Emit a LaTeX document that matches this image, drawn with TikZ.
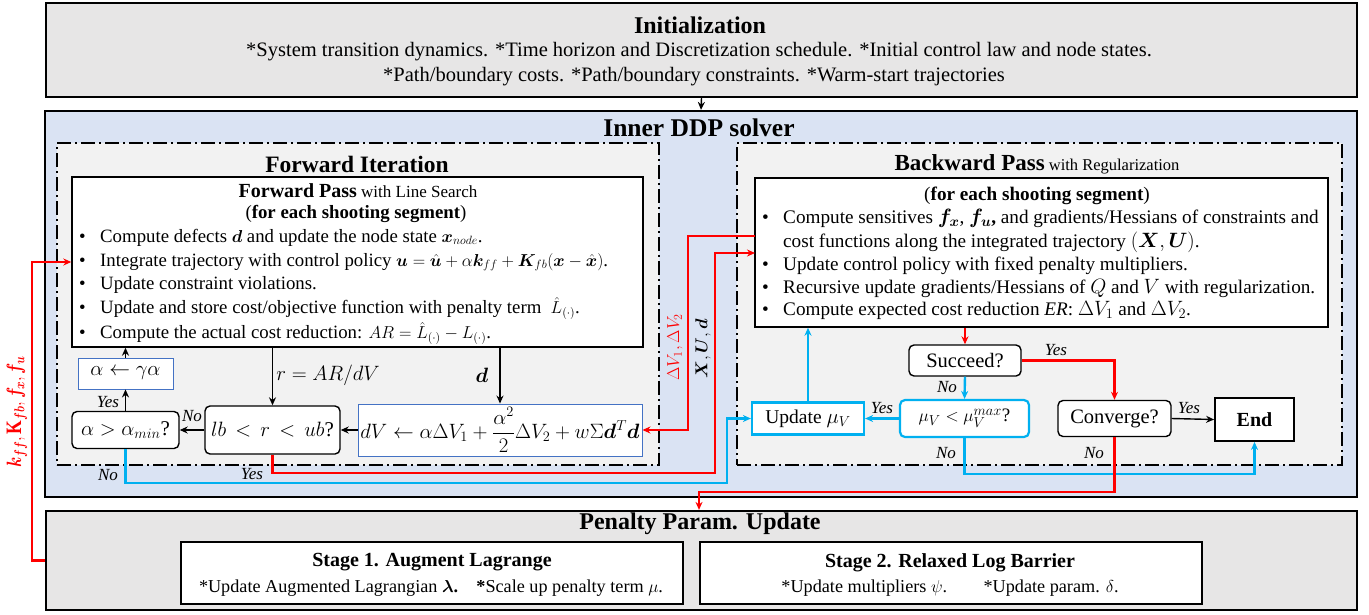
\documentclass[tikz,border=0pt]{standalone}
\usepackage{amsmath,bm}
\usepackage{fontspec}
\setmainfont{Liberation Serif}
\usetikzlibrary{arrows.meta}
\definecolor{initgray}{HTML}{E7E6E6}
\definecolor{ddpblue}{HTML}{DAE3F3}
\definecolor{dashgray}{HTML}{F2F2F2}
\definecolor{cblue}{HTML}{00B0F0}
\definecolor{cred}{HTML}{FF0000}
\definecolor{bborder}{HTML}{4472C4}
\tikzset{
  outer/.style={draw=black, line width=2.2pt, fill=initgray, inner sep=0pt},
  dd/.style={draw=black, line width=2pt, fill=dashgray, inner sep=0pt, dash pattern=on 14pt off 4pt on 2pt off 4pt},
  wbox/.style={draw=black, line width=1.4pt, fill=white, inner sep=0pt},
  rbox/.style={wbox, rounded corners=5pt},
  bbox/.style={draw=bborder, line width=0.9pt, fill=white, inner sep=0pt},
  cbox/.style={draw=cblue, line width=2.2pt, fill=white, inner sep=0pt},
  ttl/.style={font=\fontsize{24}{28}\selectfont\bfseries, inner sep=0pt},
  txt/.style={font=\fontsize{18.8}{22}\selectfont, inner sep=0pt},
  btxt/.style={txt, anchor=base west, text height=13pt, text depth=4pt},
  bwtxt/.style={btxt, font=\fontsize{19.2}{22}\selectfont},
  lab/.style={font=\fontsize{17}{18}\selectfont\itshape, inner sep=0pt},
  arr/.style={-{Stealth[length=8pt,width=7pt]}, line width=1.4pt},
  rarr/.style={arr, draw=cred, line width=2.4pt},
  barr/.style={arr, draw=cblue, line width=2.4pt},
}
\begin{document}
\begin{tikzpicture}[x=1pt,y=-1pt]
\useasboundingbox (0,0) rectangle (1369,614);

% Initialization
\node[outer, minimum width=1311, minimum height=94] (init) at (701.5,50) {};
\node[ttl] (initT) at (700,25) {Initialization};
\node[txt, font=\fontsize{20.5}{24}\selectfont] (initA) at (699,52) {*System transition dynamics. *Time horizon and Discretization schedule. *Initial control law and node states.};
\node[txt, font=\fontsize{20.5}{24}\selectfont] (initB) at (694,77) {*Path/boundary costs. *Path/boundary constraints. *Warm-start trajectories};

% Inner DDP
\node[outer, fill=ddpblue, minimum width=1312, minimum height=386] (ddp) at (701,304) {};
\node[ttl, font=\fontsize{25.5}{28}\selectfont\bfseries] (ddpT) at (699,128) {Inner DDP solver};

% Forward iteration
\node[dd, minimum width=602, minimum height=322] (fwd) at (358,304) {};
\node[ttl, font=\fontsize{23.5}{28}\selectfont\bfseries] (fwdT) at (357,164) {Forward Iteration};
\node[wbox, minimum width=571, minimum height=170] (fp) at (357.5,262) {};
\node[txt] (fpT) at (358,191) {\fontsize{20}{22}\selectfont\textbf{Forward Pass}\fontsize{17}{22}\selectfont{} with Line Search};
\node[txt] (fpS) at (356,214) {(\textbf{for each shooting segment})};
\foreach \yy/\nm in {242.4/a,266.4/b,289.4/c,313.4/d,338.4/e}{
  \node[btxt] (fpb\nm) at (79,\yy) {\textbullet};
}
\node[btxt] (fp1) at (100,242.4) {Compute defects $\bm{d}$ and update the node state $\bm{x}_{node}$.};
\node[btxt] (fp2) at (100,266.4) {Integrate trajectory with control policy $\bm{u}=\hat{\bm{u}}+\alpha\bm{k}_{ff}+\bm{K}_{fb}(\bm{x}-\hat{\bm{x}})$.};
\node[btxt] (fp3) at (100,289.4) {Update constraint violations.};
\node[btxt] (fp4) at (100,313.4) {Update and store cost/objective function with penalty term \ $\hat{L}_{(\cdot)}$.};
\node[btxt] (fp5) at (100,338.4) {Compute the actual cost reduction: $AR=\hat{L}_{(\cdot)}-L_{(\cdot)}$.};

\node[bbox, minimum width=95, minimum height=31] (agam) at (125.5,373.5) {\fontsize{21}{22}\selectfont$\alpha\leftarrow\gamma\alpha$};
\node[rbox, minimum width=107, minimum height=37] (amin) at (125.5,430) {\fontsize{21}{22}\selectfont$\alpha>\alpha_{min}$?};
\node[rbox, minimum width=135, minimum height=48] (lbr) at (272.5,430) {\fontsize{21}{22}\selectfont$lb\mkern3mu<\mkern3mu r\mkern3mu<\mkern3mu ub$?};
\node[bbox, minimum width=284, minimum height=52] (dV) at (500,430) {\fontsize{20.3}{22}\selectfont$dV\leftarrow\alpha\Delta V_1+\dfrac{\alpha^2}{2}\Delta V_2+w\Sigma\bm{d}^T\bm{d}$};
\node[txt, font=\fontsize{21}{22}\selectfont] (rlab) at (328,375) {$r=AR/dV$};
\node[txt, font=\fontsize{21}{22}\selectfont] (dlab) at (482,375) {$\bm{d}$};

% Backward pass
\node[dd, minimum width=605, minimum height=322] (bwd) at (1039.5,304) {};
\node[txt] (bwdT) at (1037,164) {\fontsize{23}{28}\selectfont\textbf{Backward Pass}\fontsize{16.5}{22}\selectfont{} with Regularization};
\node[wbox, minimum width=573, minimum height=149] (bp) at (1041.5,252.5) {};
\node[txt, font=\fontsize{19.2}{22}\selectfont] (bpS) at (1037,196) {(\textbf{for each shooting segment})};
\foreach \yy/\nm in {223.4/a,270.4/c,293.4/d,315.4/e}{
  \node[bwtxt] (bpb\nm) at (762,\yy) {\textbullet};
}
\node[bwtxt] (bp1) at (783,223.4) {Compute sensitives $\bm{f_x}$, $\bm{f_u}$\textbf{,} and gradients/Hessians of constraints and};
\node[bwtxt] (bp1b) at (783,247.4) {cost functions along the integrated trajectory $(\bm{X},\bm{U})$.};
\node[bwtxt] (bp2) at (783,270.4) {Update control policy with fixed penalty multipliers.};
\node[bwtxt] (bp3) at (783,293.4) {Recursive update gradients/Hessians of $Q$ and $V$ with regularization.};
\node[bwtxt] (bp4) at (783,315.4) {Compute expected cost reduction \textit{ER}: $\Delta V_1$ and $\Delta V_2$.};

\node[rbox, minimum width=112, minimum height=31] (succ) at (965,360.5) {\fontsize{20.5}{22}\selectfont Succeed?};
\node[cbox, rounded corners=5pt, minimum width=129, minimum height=37] (mu) at (964.5,418.5) {\fontsize{19}{22}\selectfont$\mu_V<\mu_V^{max}$?};
\node[cbox, minimum width=112, minimum height=32] (upd) at (808,418.5) {\fontsize{19.5}{22}\selectfont Update $\mu_V$};
\node[rbox, minimum width=113, minimum height=36] (conv) at (1114.5,418.5) {\fontsize{20.5}{22}\selectfont Converge?};
\node[wbox, line width=1.8pt, minimum width=79, minimum height=43] (end) at (1254.5,419.5) {\fontsize{20}{22}\selectfont\textbf{End}};

% Penalty update
\node[outer, minimum width=1311, minimum height=99] (pen) at (701.5,560.5) {};
\node[ttl] (penT) at (700,524) {Penalty Param. Update};
\node[wbox, minimum width=502, minimum height=62] (st1) at (432,573) {};
\node[wbox, minimum width=502, minimum height=62] (st2) at (951,573) {};
\node[txt] (st1T) at (432,562) {\fontsize{20}{22}\selectfont\textbf{Stage 1. Augment Lagrange}};
\node[txt] (st1A) at (431,588) {\fontsize{18.2}{22}\selectfont *Update Augmented Lagrangian $\bm{\lambda}$\textbf{.}\quad\textbf{*}Scale up penalty term $\mu$.};
\node[txt] (st2T) at (950,563) {\fontsize{20}{22}\selectfont\textbf{Stage 2. Relaxed Log Barrier}};
\node[txt] (st2A) at (950,588) {\fontsize{18.2}{22}\selectfont *Update multipliers $\psi$.\qquad *Update param. $\delta$.};

% rotated labels
\node[txt, rotate=90, text=cred, font=\fontsize{22}{24}\selectfont] (klab) at (17,412) {\scalebox{0.8}[1]{$\bm{k}_{\bm{ff}},\mathbf{K}_{\bm{fb}},\bm{f}_{\bm{x}},\bm{f}_{\bm{u}}$}};
\node[txt, rotate=90, text=cred, font=\fontsize{18}{22}\selectfont] (dvlab) at (675,347) {$\Delta V_1,\Delta V_2$};
\node[txt, rotate=90, font=\fontsize{18}{22}\selectfont] (xudlab) at (703,349) {$\bm{X},\bm{U},\bm{d}$};

% coordinates
\coordinate (bL) at (727,483);
\coordinate (rL) at (715,473);
\coordinate (bpIn) at (755,253);
\coordinate (bpOut) at (755,236);
\coordinate (rM) at (688,300);
\coordinate (bR) at (1254.5,474);
\coordinate (rR) at (699,492);
\coordinate (kL) at (32,400);

% connectors
\draw[arr] (init.south) -- (ddp.north);
\draw[arr] (fp.south -| lbr.north) -- (lbr.north);
\draw[arr] (fp.south -| dV.north) -- (dV.north);
\draw[arr] (dV.west) -- (lbr.east);
\draw[arr] (lbr.west) -- (amin.east);
\draw[arr] (amin.north) -- (agam.south);
\draw[arr] (agam.north) -- (agam.north |- fp.south);
\draw[barr] (amin.south) |- (bL) |- (upd.west);
\draw[rarr] (lbr.south) |- (rL) |- (bpIn);
\draw[rarr] (bpOut) -| (rM) |- (dV.east);
\draw[rarr] (bp.south -| succ.north) -- (succ.north);
\draw[rarr] (succ.east) -| (conv.north);
\draw[barr] (succ.south) -- (mu.north);
\draw[barr] (mu.west) -- (upd.east);
\draw[barr] (upd.north) -- (upd.north |- bp.south);
\draw[arr] (conv.east) -- (end.west);
\draw[barr] (mu.south) |- (bR) -- (end.south);
\draw[rarr] (conv.south) |- (rR) -- (rR |- pen.north);
\draw[rarr] (pen.west) -| (kL) |- (fp.west);

% yes/no labels
\node[lab] (y1) at (108,402) {Yes};
\node[lab] (n1) at (192,416) {No};
\node[lab] (n2) at (108,475) {No};
\node[lab] (y2) at (252,474) {Yes};
\node[lab] (y3) at (1056,350) {Yes};
\node[lab] (n3) at (947,387) {No};
\node[lab] (y4) at (882,408) {Yes};
\node[lab] (y5) at (1189,408) {Yes};
\node[lab] (n4) at (946,453) {No};
\node[lab] (n5) at (1094,453) {No};
\end{tikzpicture}
\end{document}
